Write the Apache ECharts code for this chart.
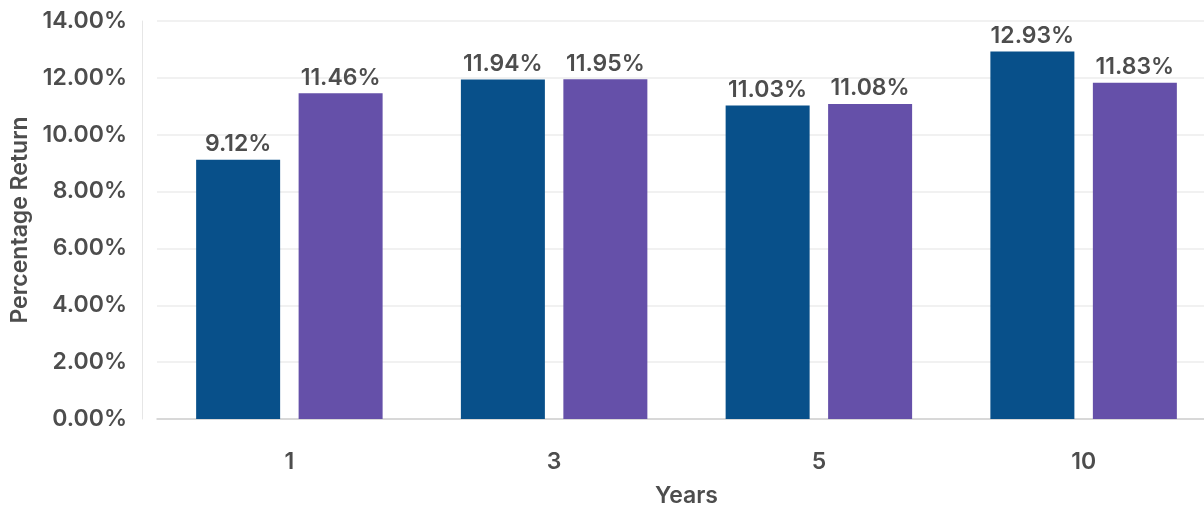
<!DOCTYPE html>
<html>
<head>
<meta charset="utf-8">
<script src="https://cdn.jsdelivr.net/npm/echarts@6/dist/echarts.min.js"></script>
<style>html,body{margin:0;padding:0;background:#fff;}#c{width:1204px;height:512px;}</style>
</head>
<body>
<div id="c"></div>
<script>
const categories = ['1', '3', '5', '10'];
const seriesA = [9.12, 11.94, 11.03, 12.93];
const seriesB = [11.46, 11.95, 11.08, 11.83];
const yTicks = { min: 0, max: 14, interval: 2 };

const FONT = 'Inter';
const TXT = '#4d4d4d';
const FS = 23;
const chart = echarts.init(document.getElementById('c'));
const labelCfg = {
  show: true, position: 'top', distance: 4,
  formatter: p => p.value.toFixed(2) + '%',
  color: TXT, fontFamily: FONT, fontSize: FS, fontWeight: 600
};
chart.setOption({
  animation: false,
  backgroundColor: '#fff',
  grid: { left: 157, width: 1059, top: 21, bottom: 93, outerBoundsMode: 'none', containLabel: false },
  xAxis: {
    type: 'category', data: categories,
    name: 'Years', nameLocation: 'middle', nameGap: 66,
    nameTextStyle: { color: TXT, fontFamily: FONT, fontSize: FS, fontWeight: 600 },
    axisLine: { lineStyle: { color: '#cfcfcf', width: 1.5 } },
    axisTick: { show: false },
    axisLabel: { margin: 32, color: TXT, fontFamily: FONT, fontSize: FS, fontWeight: 600 }
  },
  yAxis: {
    type: 'value', min: yTicks.min, max: yTicks.max, interval: yTicks.interval,
    offset: 15,
    name: 'Percentage Return', nameLocation: 'middle', nameGap: 110,
    nameTextStyle: { color: TXT, fontFamily: FONT, fontSize: FS, fontWeight: 600 },
    axisLine: { show: true, lineStyle: { color: '#e6e6e6' } },
    axisTick: { show: false },
    splitLine: { lineStyle: { color: '#ececec', width: 1.5 } },
    axisLabel: { margin: 15, color: TXT, fontFamily: FONT, fontSize: FS, fontWeight: 600,
      formatter: v => v.toFixed(2) + '%' }
  },
  series: [
    { type: 'bar', data: seriesA, barWidth: 84, barGap: '22%',
      itemStyle: { color: '#08508a' }, label: labelCfg },
    { type: 'bar', data: seriesB, barWidth: 84, barGap: '22%',
      itemStyle: { color: '#6550a9' }, label: labelCfg }
  ]
});
</script>
</body>
</html>
